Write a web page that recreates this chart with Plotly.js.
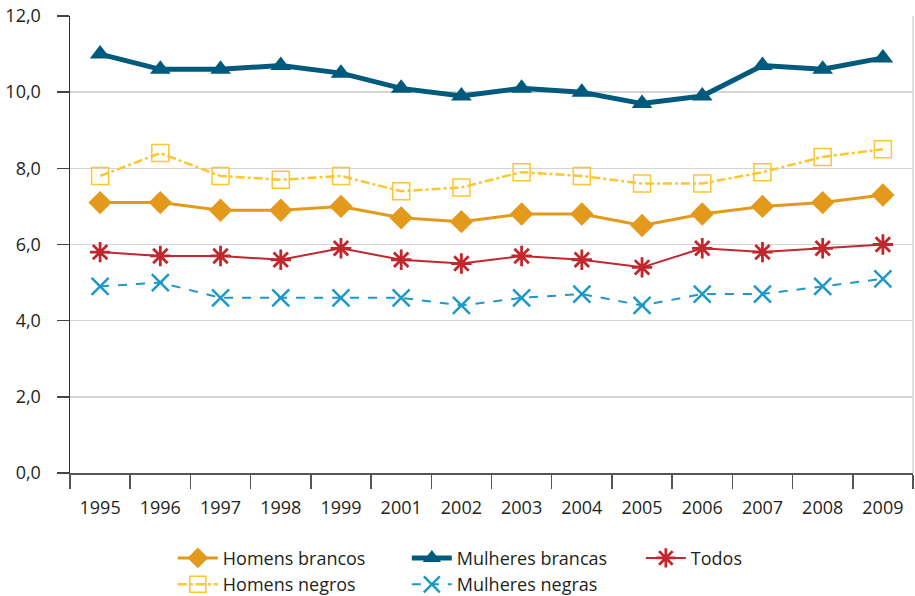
<!DOCTYPE html>
<html>
<head>
<meta charset="utf-8">
<script src="https://cdn.plot.ly/plotly-3.0.1.min.js"></script>
<style>html,body{margin:0;padding:0;background:#fff;}#chart{width:915px;height:596px;}</style>
</head>
<body>
<div id="chart"></div>
<script>
const years = ["1995","1996","1997","1998","1999","2001","2002","2003","2004","2005","2006","2007","2008","2009"];
const homensBrancos = [7.1, 7.1, 6.9, 6.9, 7.0, 6.7, 6.6, 6.8, 6.8, 6.5, 6.8, 7.0, 7.1, 7.3];
const mulheresBrancas = [11.0, 10.6, 10.6, 10.7, 10.5, 10.1, 9.9, 10.1, 10.0, 9.7, 9.9, 10.7, 10.6, 10.9];
const todos = [5.8, 5.7, 5.7, 5.6, 5.9, 5.6, 5.5, 5.7, 5.6, 5.4, 5.9, 5.8, 5.9, 6.0];
const homensNegros = [7.8, 8.4, 7.8, 7.7, 7.8, 7.4, 7.5, 7.9, 7.8, 7.6, 7.6, 7.9, 8.3, 8.5];
const mulheresNegras = [4.9, 5.0, 4.6, 4.6, 4.6, 4.6, 4.4, 4.6, 4.7, 4.4, 4.7, 4.7, 4.9, 5.1];
const yTicks = [0, 2, 4, 6, 8, 10, 12];

const traces = [
  {name: "Homens brancos", x: years, y: homensBrancos, type: "scatter", mode: "lines+markers",
   line: {color: "#e3991b", width: 3}, marker: {symbol: "diamond", size: 18, color: "#e3991b"}},
  {name: "Mulheres brancas", x: years, y: mulheresBrancas, type: "scatter", mode: "lines+markers",
   line: {color: "#005a7e", width: 5}, marker: {symbol: "triangle-up", size: 18, color: "#005a7e"}},
  {name: "Todos", x: years, y: todos, type: "scatter", mode: "lines+markers",
   line: {color: "#c1272d", width: 2}, marker: {symbol: "asterisk-open", size: 17, color: "#c1272d", line: {color: "#c1272d", width: 2.8}}},
  {name: "Homens negros", x: years, y: homensNegros, type: "scatter", mode: "lines+markers",
   line: {color: "#fdc62f", width: 2.5, dash: "dashdot"}, marker: {symbol: "square-open", size: 17, color: "#fdc62f", line: {color: "#fdc62f", width: 1.5}}},
  {name: "Mulheres negras", x: years, y: mulheresNegras, type: "scatter", mode: "lines+markers",
   line: {color: "#1d98c8", width: 2, dash: "dash"}, marker: {symbol: "x-thin-open", size: 17, color: "#1d98c8", line: {color: "#1d98c8", width: 2.5}}}
];

const layout = {
  width: 915, height: 596,
  margin: {l: 70, r: 2, t: 16, b: 123, autoexpand: false},
  paper_bgcolor: "#fff", plot_bgcolor: "#fff",
  font: {family: "Open Sans, Noto Sans, sans-serif", size: 18, color: "#231f20"},
  separators: ",.",
  showlegend: true,
  legend: {orientation: "h", x: 0.122, xanchor: "left", y: -0.146, yanchor: "top",
           entrywidth: 179, entrywidthmode: "pixels", itemwidth: 40,
           font: {size: 18, color: "#231f20"}, tracegroupgap: 0, bgcolor: "rgba(0,0,0,0)"},
  xaxis: {type: "category", range: [-0.5, 13.5], tickson: "boundaries", ticks: "outside", ticklen: 14,
          tickcolor: "#555", tickwidth: 1.5, showline: true, linecolor: "#555", linewidth: 2,
          showgrid: false, zeroline: false, fixedrange: true, ticklabelstandoff: 17,
          tickfont: {size: 18, color: "#231f20"}},
  yaxis: {range: [0, 12], tickvals: yTicks, tickformat: ".1f", ticks: "outside", ticklen: 12,
          tickcolor: "#444", tickwidth: 1.5, showline: true, linecolor: "#333", linewidth: 1.5,
          showgrid: true, gridcolor: "#d4d4d4", gridwidth: 1.5, zeroline: false, ticklabelstandoff: 12,
          tickfont: {size: 18, color: "#231f20"}},
  shapes: [{type: "line", xref: "paper", yref: "paper", x0: 1, x1: 1, y0: 0, y1: 1,
            line: {color: "#d4d4d4", width: 1.5}}]
};

Plotly.newPlot("chart", traces, layout, {displayModeBar: false, staticPlot: true});
</script>
</body>
</html>
